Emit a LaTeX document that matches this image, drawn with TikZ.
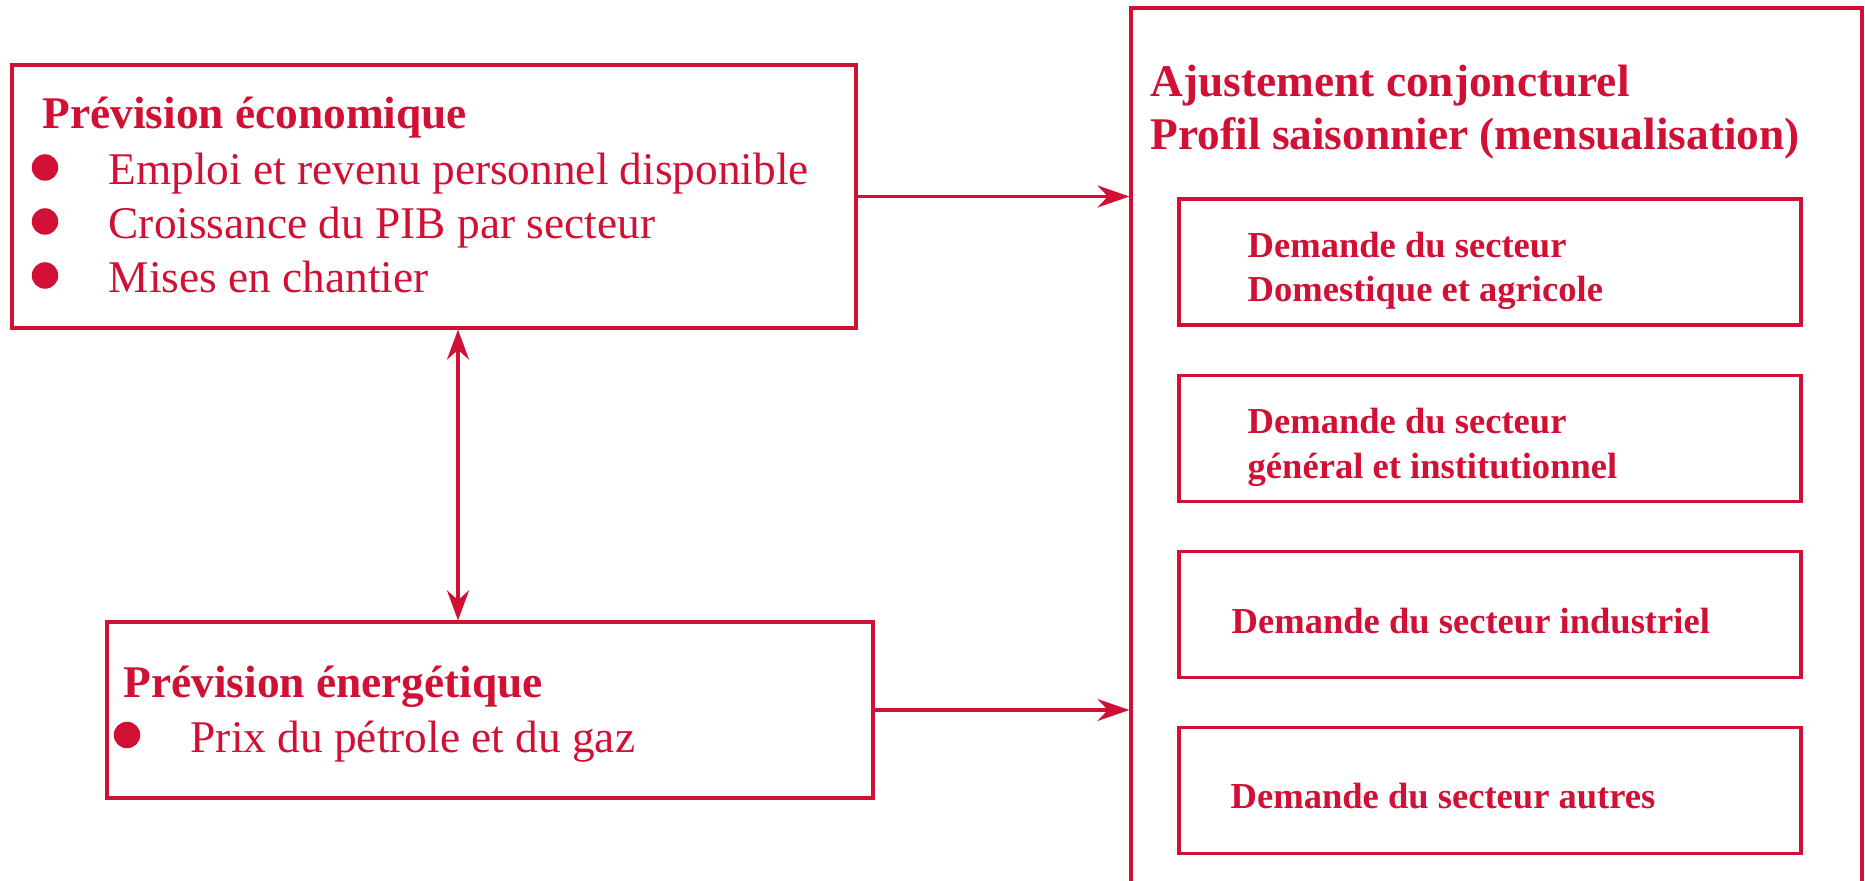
\documentclass[tikz,border=0pt]{standalone}
\usepackage{fontspec}
\setmainfont{Liberation Serif}
\usepackage{xcolor}
\usepackage{tikz}
\usetikzlibrary{positioning}
\usetikzlibrary{calc,arrows.meta}

\definecolor{rougehq}{RGB}{208,16,52}

\tikzset{
	boite/.style={draw=rougehq, line width=0.9pt, inner sep=0pt},
	titre/.style={anchor=base west, inner sep=0pt, text=rougehq, font=\fontsize{12.9}{15}\selectfont\bfseries},
	texte/.style={anchor=base west, inner sep=0pt, text=rougehq, font=\fontsize{12.9}{15}\selectfont},
	petit/.style={anchor=base west, inner sep=0pt, text=rougehq, font=\fontsize{10.4}{12.5}\selectfont\bfseries},
	puce/.style={circle, fill=rougehq, inner sep=0pt, minimum size=0.265cm},
	fleche/.style={draw=rougehq, line width=0.9pt, -{Stealth[length=0.32cm, width=0.22cm]}},
	doublefleche/.style={draw=rougehq, line width=0.9pt, {Stealth[length=0.30cm, width=0.22cm]}-{Stealth[length=0.30cm, width=0.22cm]}},
}

\begin{document}
\begin{tikzpicture}
		
		% ---------------------
		% Proper size --- Bounding box
		\useasboundingbox (0.00cm, -8.81cm) rectangle (18.65cm, 0.00cm);
		
		% ---------------------
		% Boxes
		
		\node[boite, minimum width=8.44cm, minimum height=2.63cm] (Eco) at (4.34cm,-1.965cm) {};
		\node[boite, minimum width=7.66cm, minimum height=1.76cm] (Ener) at (4.90cm,-7.10cm) {};
		\node[boite, minimum width=7.31cm, minimum height=9.22cm] (Ajust) at (14.965cm,-4.69cm) {};
		
		\node[boite, minimum width=6.22cm, minimum height=1.26cm] (Dem1) at (14.90cm,-2.620cm) {};
		\node[boite, minimum width=6.22cm, minimum height=1.26cm] (Dem2) at (14.90cm,-4.385cm) {};
		\node[boite, minimum width=6.22cm, minimum height=1.26cm] (Dem3) at (14.90cm,-6.145cm) {};
		\node[boite, minimum width=6.22cm, minimum height=1.26cm] (Dem4) at (14.90cm,-7.905cm) {};
		
		% ---------------------
		% Prevision economique
		
		\coordinate (EcoOrig) at (0.42cm,-1.29cm);
		\path (EcoOrig) +(0.66cm,-0.56cm) coordinate (Ligne1);
		\path (Ligne1) +(0.00cm,-0.54cm) coordinate (Ligne2);
		\path (Ligne2) +(0.00cm,-0.54cm) coordinate (Ligne3);
		
		\node[titre] (EcoTitre) at (EcoOrig) {Prévision économique};
		\node[texte] (Item1) at (Ligne1) {Emploi et revenu personnel disponible};
		\node[texte] (Item2) at (Ligne2) {Croissance du PIB par secteur};
		\node[texte] (Item3) at (Ligne3) {Mises en chantier};
		
		\path (Ligne1) +(-0.63cm,0.175cm) node[puce] (Puce1) {};
		\path (Ligne2) +(-0.63cm,0.175cm) node[puce] (Puce2) {};
		\path (Ligne3) +(-0.63cm,0.175cm) node[puce] (Puce3) {};
		
		% ---------------------
		% Prevision energetique
		
		\coordinate (EnerOrig) at (1.23cm,-6.97cm);
		\path (EnerOrig) +(0.67cm,-0.55cm) coordinate (Ligne4);
		
		\node[titre] (EnerTitre) at (EnerOrig) {Prévision énergétique};
		\node[texte] (Item4) at (Ligne4) {Prix du pétrole et du gaz};
		\path (Ligne4) +(-0.63cm,0.17cm) node[puce] (Puce4) {};
		
		% ---------------------
		% Ajustement
		
		\node[titre] (AjustTitre1) at (11.50cm,-0.97cm) {Ajustement conjoncturel};
		\node[titre] (AjustTitre2) at (11.50cm,-1.50cm) {Profil saisonnier (mensualisation)};
		
		\node[petit] (Dem1a) at (12.47cm,-2.58cm) {Demande du secteur};
		\node[petit] (Dem1b) at (12.47cm,-3.02cm) {Domestique et agricole};
		\node[petit] (Dem2a) at (12.47cm,-4.33cm) {Demande du secteur};
		\node[petit] (Dem2b) at (12.47cm,-4.78cm) {général et institutionnel};
		\node[petit] (Dem3a) at (12.31cm,-6.33cm) {Demande du secteur industriel};
		\node[petit] (Dem4a) at (12.30cm,-8.08cm) {Demande du secteur autres};
		
		% ---------------------
		% Arrows
		
		\coordinate (Axe) at (4.58cm,0.00cm);
		
		\draw[fleche] (Eco.east) -- (Eco.east -| Ajust.west);
		\draw[fleche] (Ener.east) -- (Ener.east -| Ajust.west);
		\draw[doublefleche] (Axe |- Eco.south) -- (Axe |- Ener.north);
		
\end{tikzpicture}
\end{document}
